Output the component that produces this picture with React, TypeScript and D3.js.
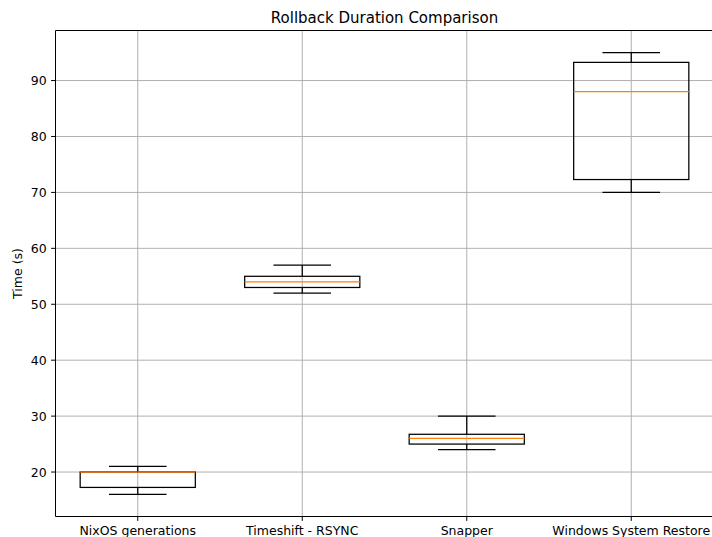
import React from "react";
import * as d3 from "d3";

const categories = ["NixOS generations", "Timeshift - RSYNC", "Snapper", "Windows System Restore"];
const whiskerLow = [16, 52, 24, 70];
const q1 = [17.25, 53, 25, 72.3];
const medians = [20, 54, 26, 88];
const q3 = [20, 55, 26.75, 93.25];
const whiskerHigh = [21, 57, 30, 95];
const yTicks = [20, 30, 40, 50, 60, 70, 80, 90];

const W = 712;
const H = 537;
const margin = { left: 55.5, top: 30.5, right: 713.5, bottom: 516.5 };

export default function App() {
  const x = d3.scaleLinear().domain([0.5, 4.5]).range([margin.left, margin.right]);
  const lo = d3.min(whiskerLow)!;
  const hi = d3.max(whiskerHigh)!;
  const pad = (hi - lo) * 0.05;
  const y = d3.scaleLinear().domain([lo - pad, hi + pad]).range([margin.bottom, margin.top]);
  const boxW = 0.7;
  const font = "DejaVu Sans, sans-serif";

  return (
    <svg width={W} height={H} style={{ position: "absolute", left: 0, top: 0, background: "#fff" }}>
      <rect x={0} y={0} width={W} height={H} fill="#fff" />
      {/* grid */}
      {yTicks.map((t) => (
        <line key={"gy" + t} x1={margin.left} x2={margin.right} y1={y(t)} y2={y(t)} stroke="#b0b0b0" strokeWidth={1} />
      ))}
      {categories.map((c, i) => (
        <line key={"gx" + c} x1={x(i + 1)} x2={x(i + 1)} y1={margin.top} y2={margin.bottom} stroke="#b0b0b0" strokeWidth={1} />
      ))}
      {/* boxes */}
      {categories.map((c, i) => {
        const cx = x(i + 1);
        const bl = x(i + 1 - boxW / 2);
        const br = x(i + 1 + boxW / 2);
        const cl = x(i + 1 - boxW / 4);
        const cr = x(i + 1 + boxW / 4);
        return (
          <g key={"b" + c} fill="none" stroke="#000" strokeWidth={1.25}>
            <line x1={cx} x2={cx} y1={y(q1[i])} y2={y(whiskerLow[i])} />
            <line x1={cx} x2={cx} y1={y(q3[i])} y2={y(whiskerHigh[i])} />
            <line x1={cl} x2={cr} y1={y(whiskerLow[i])} y2={y(whiskerLow[i])} />
            <line x1={cl} x2={cr} y1={y(whiskerHigh[i])} y2={y(whiskerHigh[i])} />
            <rect x={bl} y={y(q3[i])} width={br - bl} height={y(q1[i]) - y(q3[i])} />
            <line x1={bl} x2={br} y1={y(medians[i])} y2={y(medians[i])} stroke="#ff7f0e" />
          </g>
        );
      })}
      {/* spines */}
      <g stroke="#000" strokeWidth={1} fill="none">
        <line x1={margin.left} x2={margin.left} y1={margin.top} y2={margin.bottom} />
        <line x1={margin.left} x2={margin.right} y1={margin.top} y2={margin.top} />
        <line x1={margin.left} x2={margin.right} y1={margin.bottom} y2={margin.bottom} />
        <line x1={margin.right} x2={margin.right} y1={margin.top} y2={margin.bottom} />
      </g>
      {/* y ticks */}
      {yTicks.map((t) => (
        <g key={"yt" + t}>
          <line x1={margin.left - 4.4} x2={margin.left} y1={y(t)} y2={y(t)} stroke="#000" strokeWidth={1} />
          <text x={margin.left - 8.8} y={y(t)} dy="0.36em" textAnchor="end" fontFamily={font} fontSize={12.5} fill="#000">
            {t}
          </text>
        </g>
      ))}
      {/* x ticks */}
      {categories.map((c, i) => (
        <g key={"xt" + c}>
          <line x1={x(i + 1)} x2={x(i + 1)} y1={margin.bottom} y2={margin.bottom + 4.4} stroke="#000" strokeWidth={1} />
          <text x={x(i + 1)} y={margin.bottom + 8.8} dy="0.76em" textAnchor="middle" fontFamily={font} fontSize={12.5} fill="#000">
            {c}
          </text>
        </g>
      ))}
      <text
        transform={`translate(22,${(margin.top + margin.bottom) / 2}) rotate(-90)`}
        textAnchor="middle"
        fontFamily={font}
        fontSize={12.5}
        fill="#000"
      >
        Time (s)
      </text>
      <text x={(margin.left + margin.right) / 2} y={margin.top - 7.5} textAnchor="middle" fontFamily={font} fontSize={15} fill="#000">
        Rollback Duration Comparison
      </text>
    </svg>
  );
}
